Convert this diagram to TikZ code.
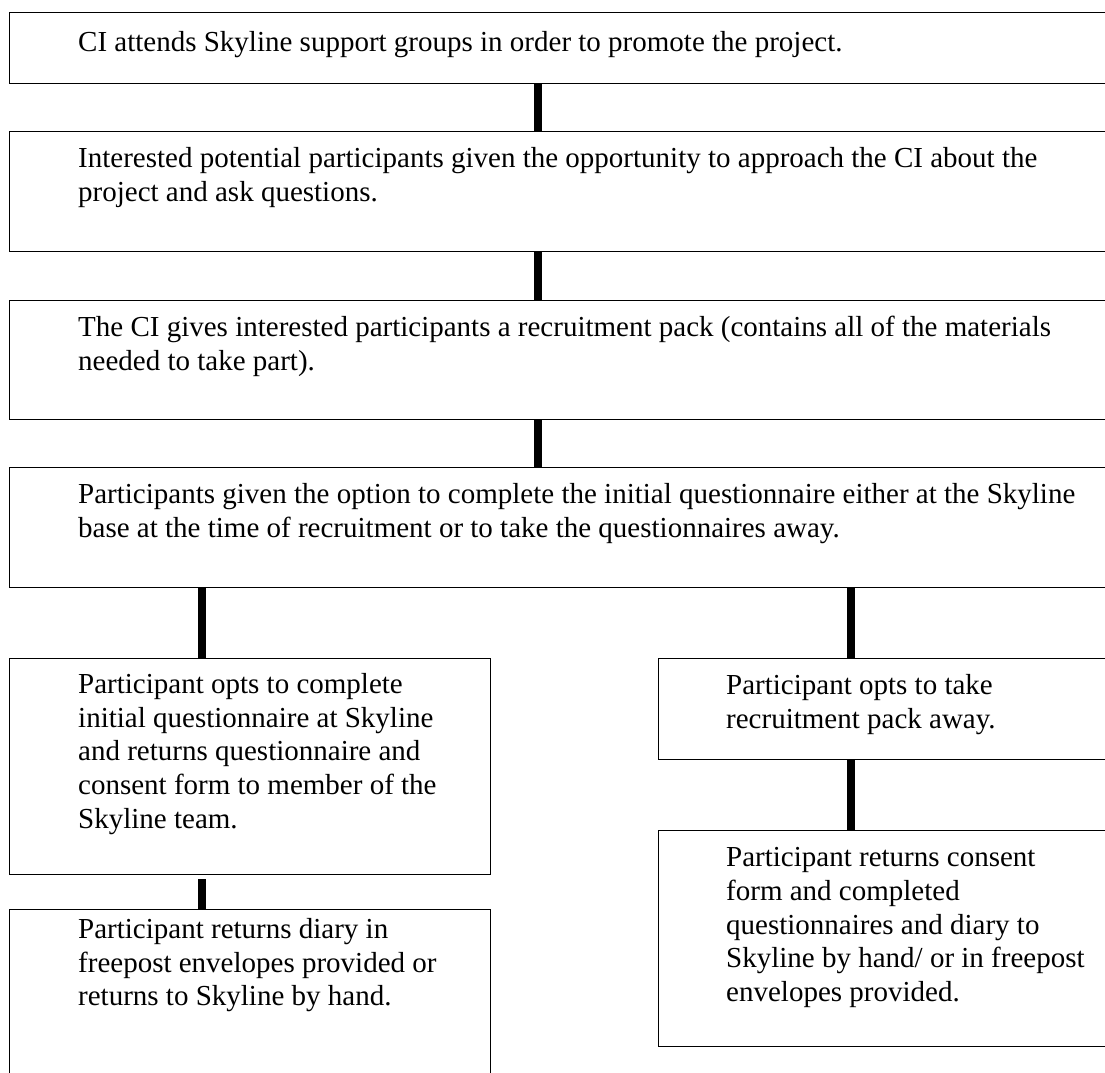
\documentclass[tikz,border=0pt]{standalone}
\usepackage{fontspec}
\setmainfont{Liberation Serif}
\usetikzlibrary{positioning}

\tikzset{
    stage/.style={draw, line width=1.3pt, inner sep=0pt, anchor=north west},
    words/.style={anchor=north west, inner sep=0pt, align=left, font=\fontsize{29}{33.8}\selectfont},
    link/.style={line width=7.5pt}
}

\begin{document}
\begin{tikzpicture}[x=1pt,y=-1pt]
                \useasboundingbox (0,0) rectangle (1105,1072);
                \clip (0,0) rectangle (1105,1072);

                \coordinate (mid) at (538,0);
                \coordinate (lft) at (202,0);
                \coordinate (rgt) at (851,0);

                \node[stage, minimum width=1120pt, minimum height=71pt] (attend) at (9,12) {};
                \node[stage, minimum width=1120pt, minimum height=120pt] (ask) at (9,131) {};
                \node[stage, minimum width=1120pt, minimum height=119pt] (pack) at (9,300) {};
                \node[stage, minimum width=1120pt, minimum height=120pt] (option) at (9,467) {};
                \node[stage, minimum width=481pt, minimum height=216pt] (atbase) at (9,658) {};
                \node[stage, minimum width=470pt, minimum height=101pt] (away) at (658,658) {};
                \node[stage, minimum width=470pt, minimum height=216pt] (sendback) at (658,830) {};
                \node[stage, minimum width=481pt, minimum height=180pt] (diary) at (9,909) {};

                \node[words] (attendtxt) at (78,31) {CI attends Skyline support groups in order to promote the project.};
                \node[words] (asktxt) at (78,147) {Interested potential participants given the opportunity to approach the CI about the\\project and ask questions.};
                \node[words] (packtxt) at (78,316) {The CI gives interested participants a recruitment pack (contains all of the materials\\needed to take part).};
                \node[words] (optiontxt) at (78,483) {Participants given the option to complete the initial questionnaire either at the Skyline\\base at the time of recruitment or to take the questionnaires away.};
                \node[words] (atbasetxt) at (78,673) {Participant opts to complete\\initial questionnaire at Skyline\\and returns questionnaire and\\consent form to member of the\\Skyline team.};
                \node[words] (awaytxt) at (726,674) {Participant opts to take\\recruitment pack away.};
                \node[words] (sendbacktxt) at (726,847) {Participant returns consent\\form and completed\\questionnaires and diary to\\Skyline by hand/ or in freepost\\envelopes provided.};
                \node[words] (diarytxt) at (78,918) {Participant returns diary in\\freepost envelopes provided or\\returns to Skyline by hand.};

                \draw[link] (attend.south -| mid) to (ask.north -| mid); \draw[link] (ask.south -| mid) to (pack.north -| mid); \draw[link] (pack.south -| mid) to (option.north -| mid);
                \draw[link] (option.south -| lft) to (atbase.north -| lft); \draw[link, shorten <=4pt] (atbase.south -| lft) to (diary.north -| lft);
                \draw[link] (option.south -| rgt) to (away.north -| rgt); \draw[link] (away.south -| rgt) to (sendback.north -| rgt);
            \end{tikzpicture}
\end{document}
